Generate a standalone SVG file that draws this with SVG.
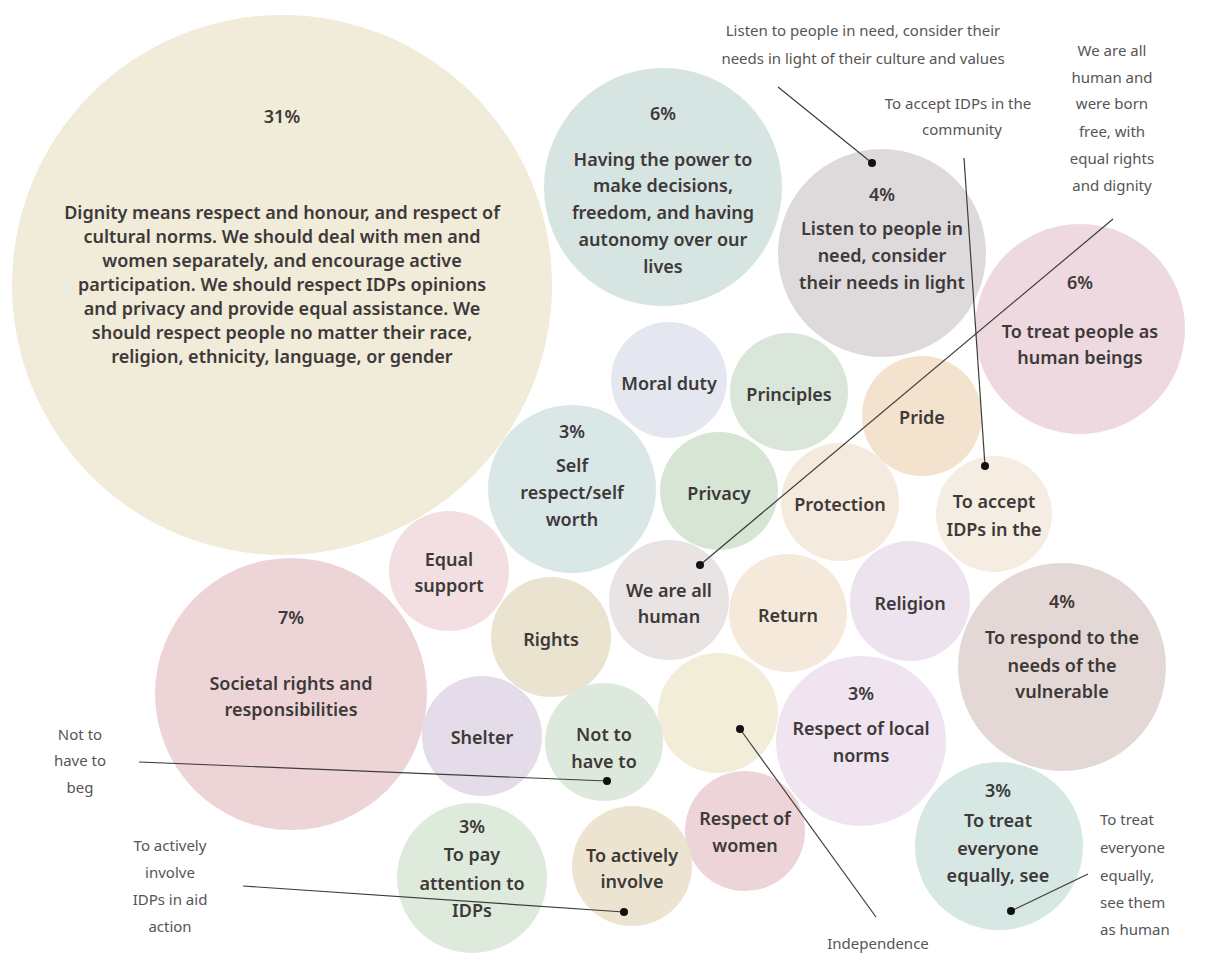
<svg xmlns="http://www.w3.org/2000/svg" width="1208" height="961" viewBox="0 0 1208 961">
<style>
text{font-family:"Noto Sans","Liberation Sans",sans-serif;text-anchor:middle;}
.t{font-size:18px;font-weight:600;fill:#3d3939;}
.o{font-size:15px;fill:#555;}
.l{text-anchor:start;}
.c{stroke:#3d3d3d;stroke-width:1.2;fill:none;}
.d{fill:#111;}
</style>
<rect width="1208" height="961" fill="#fff"/>
<g id="n-dignity"><circle cx="282" cy="285" r="270" fill="#f1ebd9"/>
<text class="t" x="282" y="123">31%</text>
<text class="t" x="282" y="219">Dignity means respect and honour, and respect of</text>
<text class="t" x="282" y="243">cultural norms. We should deal with men and</text>
<text class="t" x="282" y="267">women separately, and encourage active</text>
<text class="t" x="282" y="291">participation. We should respect IDPs opinions</text>
<text class="t" x="282" y="315">and privacy and provide equal assistance. We</text>
<text class="t" x="282" y="339">should respect people no matter their race,</text>
<text class="t" x="282" y="363">religion, ethnicity, language, or gender</text></g>
<g id="n-power"><circle cx="663" cy="187" r="119" fill="#d6e4e2"/>
<text class="t" x="663" y="120">6%</text>
<text class="t" x="663" y="166">Having the power to</text>
<text class="t" x="663" y="192">make decisions,</text>
<text class="t" x="663" y="219">freedom, and having</text>
<text class="t" x="663" y="246">autonomy over our</text>
<text class="t" x="663" y="273">lives</text></g>
<g id="n-listen"><circle cx="882" cy="253" r="104" fill="#dedadc"/>
<text class="t" x="882" y="201">4%</text>
<text class="t" x="882" y="235">Listen to people in</text>
<text class="t" x="882" y="262">need, consider</text>
<text class="t" x="882" y="289">their needs in light</text></g>
<g id="n-treatpeople"><circle cx="1080" cy="329" r="105" fill="#edd9df"/>
<text class="t" x="1080" y="289">6%</text>
<text class="t" x="1080" y="338">To treat people as</text>
<text class="t" x="1080" y="364">human beings</text></g>
<g id="n-moral"><circle cx="669" cy="380" r="58" fill="#e4e7ef"/>
<text class="t" x="669" y="390">Moral duty</text></g>
<g id="n-principles"><circle cx="789" cy="392" r="59" fill="#d9e6d9"/>
<text class="t" x="789" y="401">Principles</text></g>
<g id="n-self"><circle cx="572" cy="489" r="84" fill="#d9e7e7"/>
<text class="t" x="572" y="438">3%</text>
<text class="t" x="572" y="472">Self</text>
<text class="t" x="572" y="499">respect/self</text>
<text class="t" x="572" y="526">worth</text></g>
<g id="n-privacy"><circle cx="719" cy="491" r="59" fill="#d7e5d5"/>
<text class="t" x="719" y="500">Privacy</text></g>
<g id="n-pride"><circle cx="922" cy="416" r="60" fill="#f3e2cd"/>
<text class="t" x="922" y="424">Pride</text></g>
<g id="n-protection"><circle cx="840" cy="502" r="59" fill="#f5eade"/>
<text class="t" x="840" y="511">Protection</text></g>
<g id="n-accept"><circle cx="994" cy="514" r="58" fill="#f5ece2"/>
<text class="t" x="994" y="508">To accept</text>
<text class="t" x="994" y="536">IDPs in the</text></g>
<g id="n-equal"><circle cx="449" cy="571" r="60" fill="#f3dfe2"/>
<text class="t" x="449" y="566">Equal</text>
<text class="t" x="449" y="592">support</text></g>
<g id="n-societal"><circle cx="291" cy="694" r="136" fill="#edd5d7"/>
<text class="t" x="291" y="624">7%</text>
<text class="t" x="291" y="690">Societal rights and</text>
<text class="t" x="291" y="716">responsibilities</text></g>
<g id="n-rights"><circle cx="551" cy="637" r="60" fill="#e9e3d0"/>
<text class="t" x="551" y="646">Rights</text></g>
<g id="n-human"><circle cx="669" cy="600" r="60" fill="#eae3e4"/>
<text class="t" x="669" y="597">We are all</text>
<text class="t" x="669" y="623">human</text></g>
<g id="n-return"><circle cx="788" cy="613" r="59" fill="#f4e9db"/>
<text class="t" x="788" y="622">Return</text></g>
<g id="n-religion"><circle cx="910" cy="601" r="60" fill="#ece3ef"/>
<text class="t" x="910" y="610">Religion</text></g>
<g id="n-respond"><circle cx="1062" cy="667" r="104" fill="#e3d8d5"/>
<text class="t" x="1062" y="608">4%</text>
<text class="t" x="1062" y="644">To respond to the</text>
<text class="t" x="1062" y="672">needs of the</text>
<text class="t" x="1062" y="698">vulnerable</text></g>
<g id="n-localnorms"><circle cx="861" cy="741" r="85" fill="#efe4ef"/>
<text class="t" x="861" y="700">3%</text>
<text class="t" x="861" y="735">Respect of local</text>
<text class="t" x="861" y="762">norms</text></g>
<g id="n-independence"><circle cx="718" cy="713" r="60" fill="#f2edd9"/></g>
<g id="n-shelter"><circle cx="482" cy="736" r="60" fill="#e4dce8"/>
<text class="t" x="482" y="744">Shelter</text></g>
<g id="n-beg"><circle cx="604" cy="742" r="59" fill="#dee9dd"/>
<text class="t" x="604" y="741">Not to</text>
<text class="t" x="604" y="768">have to</text></g>
<g id="n-women"><circle cx="745" cy="831" r="60" fill="#edd4d8"/>
<text class="t" x="745" y="825">Respect of</text>
<text class="t" x="745" y="852">women</text></g>
<g id="n-involve"><circle cx="632" cy="866" r="60" fill="#ece4d1"/>
<text class="t" x="632" y="862">To actively</text>
<text class="t" x="632" y="888">involve</text></g>
<g id="n-attention"><circle cx="472" cy="878" r="75" fill="#deeadb"/>
<text class="t" x="472" y="833">3%</text>
<text class="t" x="472" y="861">To pay</text>
<text class="t" x="472" y="890">attention to</text>
<text class="t" x="472" y="917">IDPs</text></g>
<g id="n-everyone"><circle cx="999" cy="846" r="84" fill="#d7e7e4"/>
<text class="t" x="998" y="797">3%</text>
<text class="t" x="998" y="827">To treat</text>
<text class="t" x="998" y="855">everyone</text>
<text class="t" x="998" y="882">equally, see</text></g>
<g id="labels">
<text class="o" x="863" y="36">Listen to people in need, consider their</text>
<text class="o" x="863" y="64">needs in light of their culture and values</text>
<text class="o" x="958" y="109">To accept IDPs in the</text>
<text class="o" x="962" y="135">community</text>
<text class="o" x="1112" y="56">We are all</text>
<text class="o" x="1112" y="83">human and</text>
<text class="o" x="1112" y="109">were born</text>
<text class="o" x="1112" y="137">free, with</text>
<text class="o" x="1112" y="164">equal rights</text>
<text class="o" x="1112" y="191">and dignity</text>
<text class="o" x="80" y="740">Not to</text>
<text class="o" x="80" y="766">have to</text>
<text class="o" x="80" y="793">beg</text>
<text class="o" x="170" y="851">To actively</text>
<text class="o" x="170" y="878">involve</text>
<text class="o" x="170" y="905">IDPs in aid</text>
<text class="o" x="170" y="932">action</text>
<text class="o" x="878" y="949">Independence</text>
<text class="o l" x="1100" y="825">To treat</text>
<text class="o l" x="1100" y="853">everyone</text>
<text class="o l" x="1100" y="881">equally,</text>
<text class="o l" x="1100" y="908">see them</text>
<text class="o l" x="1100" y="935">as human</text>
</g>
<g id="connectors">
<line class="c" x1="778" y1="87" x2="872" y2="163"/>
<line class="c" x1="964" y1="158" x2="985" y2="466"/>
<line class="c" x1="1113" y1="219" x2="700" y2="565"/>
<line class="c" x1="139" y1="762" x2="607" y2="781"/>
<line class="c" x1="243" y1="886" x2="624" y2="912"/>
<line class="c" x1="740" y1="729" x2="876" y2="917"/>
<line class="c" x1="1088" y1="874" x2="1011" y2="911"/>
<circle class="d" cx="872" cy="163" r="4"/>
<circle class="d" cx="985" cy="466" r="4"/>
<circle class="d" cx="700" cy="565" r="4"/>
<circle class="d" cx="607" cy="781" r="4"/>
<circle class="d" cx="624" cy="912" r="4"/>
<circle class="d" cx="740" cy="729" r="4"/>
<circle class="d" cx="1011" cy="911" r="4"/>
</g>
</svg>
